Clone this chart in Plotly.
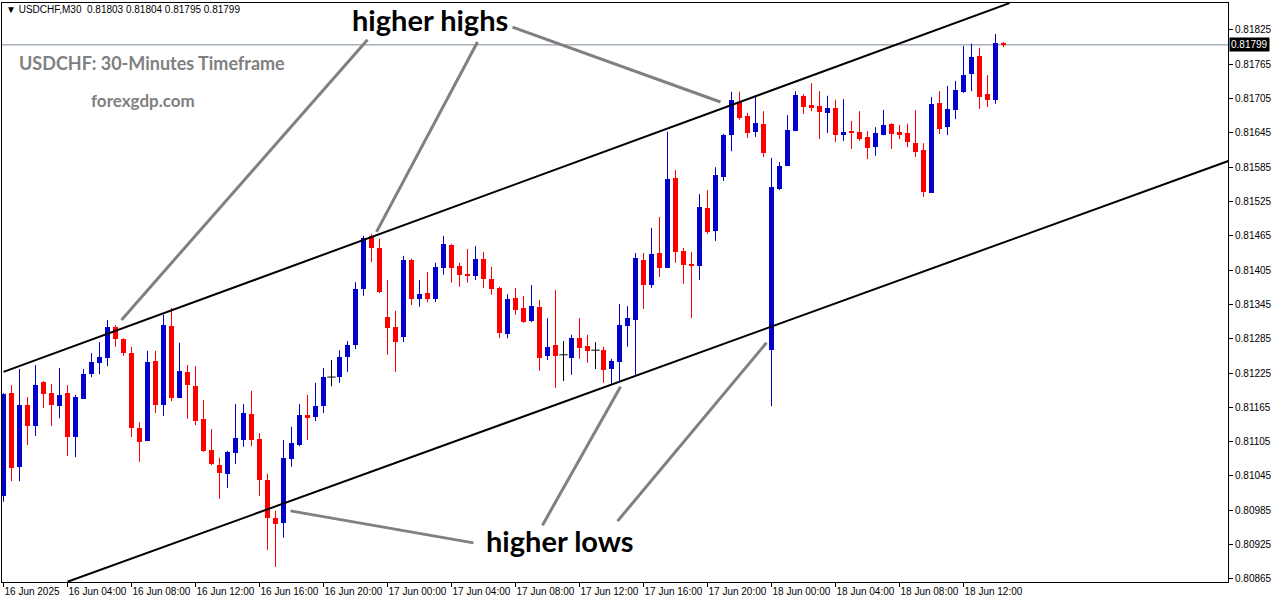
import plotly.graph_objects as go

# ---------------- data ----------------
opens = [0.81010, 0.81190, 0.81061, 0.81169, 0.81132, 0.81209, 0.81190, 0.81167, 0.81190, 0.81113,
         0.81180, 0.81223, 0.81243, 0.81251, 0.81306, 0.81285, 0.81260, 0.81129, 0.81106, 0.81246,
         0.81169, 0.81307, 0.81181, 0.81227, 0.81202, 0.81145, 0.81090, 0.81064, 0.81049, 0.81085,
         0.81108, 0.81153, 0.81110, 0.81038, 0.80972, 0.80963, 0.81075, 0.81099, 0.81152, 0.81148,
         0.81167, 0.81218, 0.81218, 0.81253, 0.81274, 0.81372, 0.81465, 0.81444, 0.81323, 0.81306,
         0.81288, 0.81423, 0.81355, 0.81365, 0.81355, 0.81409, 0.81449, 0.81412, 0.81398, 0.81395,
         0.81425, 0.81390, 0.81374, 0.81293, 0.81356, 0.81339, 0.81316, 0.81341, 0.81255, 0.81274,
         0.81257, 0.81251, 0.81286, 0.81272, 0.81265, 0.81265, 0.81232, 0.81244, 0.81307, 0.81318,
         0.81423, 0.81379, 0.81435, 0.81409, 0.81566, 0.81439, 0.81416, 0.81412, 0.81514, 0.81474,
         0.81568, 0.81641, 0.81699, 0.81675, 0.81647, 0.81661, 0.81265, 0.81547, 0.81587, 0.81648,
         0.81710, 0.81694, 0.81692, 0.81680, 0.81689, 0.81641, 0.81648, 0.81647, 0.81638, 0.81620,
         0.81641, 0.81661, 0.81647, 0.81645, 0.81627, 0.81615, 0.81540, 0.81697, 0.81655, 0.81685,
         0.81717, 0.81748, 0.81780, 0.81713, 0.81703, 0.81803]
highs = [0.81190, 0.81204, 0.81232, 0.81183, 0.81239, 0.81211, 0.81206, 0.81234, 0.81204, 0.81187,
         0.81232, 0.81260, 0.81279, 0.81318, 0.81309, 0.81286, 0.81271, 0.81139, 0.81264, 0.81264,
         0.81327, 0.81339, 0.81278, 0.81239, 0.81237, 0.81178, 0.81127, 0.81077, 0.81089, 0.81171,
         0.81171, 0.81194, 0.81120, 0.81049, 0.80984, 0.81108, 0.81131, 0.81171, 0.81187, 0.81208,
         0.81234, 0.81248, 0.81265, 0.81281, 0.81384, 0.81465, 0.81468, 0.81460, 0.81388, 0.81334,
         0.81430, 0.81425, 0.81388, 0.81402, 0.81418, 0.81465, 0.81451, 0.81418, 0.81442, 0.81447,
         0.81437, 0.81411, 0.81376, 0.81363, 0.81374, 0.81360, 0.81379, 0.81353, 0.81321, 0.81370,
         0.81281, 0.81292, 0.81321, 0.81292, 0.81279, 0.81271, 0.81250, 0.81346, 0.81342, 0.81435,
         0.81435, 0.81479, 0.81498, 0.81647, 0.81580, 0.81444, 0.81437, 0.81538, 0.81545, 0.81585,
         0.81643, 0.81717, 0.81717, 0.81680, 0.81710, 0.81683, 0.81601, 0.81594, 0.81676, 0.81718,
         0.81713, 0.81732, 0.81718, 0.81710, 0.81703, 0.81704, 0.81666, 0.81683, 0.81648, 0.81655,
         0.81685, 0.81662, 0.81659, 0.81661, 0.81685, 0.81627, 0.81708, 0.81718, 0.81727, 0.81736,
         0.81797, 0.81801, 0.81794, 0.81746, 0.81818, 0.81804]
lows = [0.81000, 0.81036, 0.81036, 0.81099, 0.81115, 0.81164, 0.81132, 0.81146, 0.81080, 0.81078,
        0.81180, 0.81218, 0.81223, 0.81237, 0.81271, 0.81255, 0.81113, 0.81070, 0.81106, 0.81155,
        0.81150, 0.81176, 0.81181, 0.81145, 0.81134, 0.81087, 0.81064, 0.81005, 0.81024, 0.81066,
        0.81096, 0.81097, 0.81010, 0.80916, 0.80886, 0.80937, 0.81061, 0.81097, 0.81108, 0.81141,
        0.81155, 0.81202, 0.81208, 0.81227, 0.81267, 0.81360, 0.81419, 0.81365, 0.81257, 0.81227,
        0.81279, 0.81344, 0.81341, 0.81349, 0.81349, 0.81397, 0.81383, 0.81376, 0.81383, 0.81388,
        0.81374, 0.81362, 0.81286, 0.81286, 0.81327, 0.81313, 0.81314, 0.81229, 0.81248, 0.81199,
        0.81211, 0.81222, 0.81250, 0.81243, 0.81232, 0.81208, 0.81206, 0.81209, 0.81271, 0.81222,
        0.81337, 0.81374, 0.81393, 0.81409, 0.81418, 0.81381, 0.81321, 0.81388, 0.81468, 0.81456,
        0.81561, 0.81613, 0.81668, 0.81636, 0.81638, 0.81603, 0.81167, 0.81545, 0.81587, 0.81648,
        0.81678, 0.81683, 0.81634, 0.81645, 0.81629, 0.81631, 0.81617, 0.81631, 0.81599, 0.81605,
        0.81641, 0.81617, 0.81634, 0.81620, 0.81603, 0.81533, 0.81540, 0.81643, 0.81641, 0.81669,
        0.81715, 0.81718, 0.81687, 0.81690, 0.81696, 0.81795]
closes = [0.81188, 0.81059, 0.81169, 0.81132, 0.81204, 0.81188, 0.81169, 0.81187, 0.81113, 0.81183,
          0.81223, 0.81244, 0.81253, 0.81306, 0.81285, 0.81260, 0.81129, 0.81104, 0.81244, 0.81169,
          0.81309, 0.81181, 0.81229, 0.81204, 0.81141, 0.81089, 0.81066, 0.81050, 0.81087, 0.81111,
          0.81155, 0.81108, 0.81038, 0.80972, 0.80961, 0.81077, 0.81103, 0.81152, 0.81146, 0.81167,
          0.81218, 0.81218, 0.81253, 0.81274, 0.81372, 0.81461, 0.81444, 0.81367, 0.81304, 0.81279,
          0.81423, 0.81355, 0.81363, 0.81355, 0.81411, 0.81451, 0.81409, 0.81397, 0.81395, 0.81425,
          0.81390, 0.81372, 0.81295, 0.81355, 0.81335, 0.81314, 0.81342, 0.81251, 0.81271, 0.81255,
          0.81257, 0.81286, 0.81269, 0.81264, 0.81265, 0.81230, 0.81246, 0.81309, 0.81321, 0.81426,
          0.81379, 0.81433, 0.81409, 0.81564, 0.81437, 0.81414, 0.81412, 0.81515, 0.81472, 0.81571,
          0.81641, 0.81703, 0.81671, 0.81645, 0.81662, 0.81610, 0.81550, 0.81587, 0.81650, 0.81711,
          0.81690, 0.81689, 0.81682, 0.81689, 0.81641, 0.81647, 0.81645, 0.81634, 0.81619, 0.81645,
          0.81659, 0.81643, 0.81641, 0.81629, 0.81612, 0.81542, 0.81696, 0.81652, 0.81687, 0.81720,
          0.81746, 0.81778, 0.81708, 0.81703, 0.81803, 0.81799]

x_tick_labels = ["16 Jun 2025", "16 Jun 04:00", "16 Jun 08:00", "16 Jun 12:00", "16 Jun 16:00",
                 "16 Jun 20:00", "17 Jun 00:00", "17 Jun 04:00", "17 Jun 08:00", "17 Jun 12:00",
                 "17 Jun 16:00", "17 Jun 20:00", "18 Jun 00:00", "18 Jun 04:00", "18 Jun 08:00",
                 "18 Jun 12:00"]
y_tick_values = [0.80865, 0.80925, 0.80985, 0.81045, 0.81105, 0.81165, 0.81225, 0.81285, 0.81345,
                 0.81405, 0.81465, 0.81525, 0.81585, 0.81645, 0.81705, 0.81765, 0.81825]
current_price = 0.81799

# trend channel anchors (bar index, price)
upper_channel = [(0.0, 0.81227), (125.75, 0.81872)]
lower_channel = [(8.0, 0.80860), (153.125, 0.81596)]
# pointer lines (bar index, price)
pointer_lines = [
    [(45.5, 0.81808), (14.75, 0.81318)],
    [(59.25, 0.81804), (46.625, 0.81472)],
    [(63.625, 0.81830), (89.625, 0.81699)],
    [(35.875, 0.80984), (58.75, 0.80928)],
    [(67.375, 0.80959), (77.125, 0.81201)],
    [(76.75, 0.80966), (95.375, 0.81278)],
]

# ---------------- figure ----------------
BLUE = "#0000cd"
RED = "#ff0000"
n = len(opens)
idx = list(range(n))

fig = go.Figure()

groups = {"up": [], "down": [], "doji": []}
for i in idx:
    if abs(closes[i] - opens[i]) < 1e-9:
        groups["doji"].append(i)
    elif closes[i] > opens[i]:
        groups["up"].append(i)
    else:
        groups["down"].append(i)

for key, color in (("up", BLUE), ("down", RED), ("doji", "#000000")):
    ids = groups[key]
    wx, wy = [], []
    for i in ids:
        wx += [i, i, None]
        wy += [lows[i], highs[i], None]
    fig.add_trace(go.Scatter(x=wx, y=wy, mode="lines", line=dict(color=color, width=1),
                             hoverinfo="skip", showlegend=False))
    if key != "doji":
        fig.add_trace(go.Bar(x=ids,
                             base=[min(opens[i], closes[i]) for i in ids],
                             y=[abs(closes[i] - opens[i]) for i in ids],
                             width=0.625, marker=dict(color=color, line=dict(width=0)),
                             hoverinfo="skip", showlegend=False))
    else:
        fig.add_trace(go.Scatter(x=ids, y=[closes[i] for i in ids], mode="markers",
                                 marker=dict(symbol="line-ew", size=6,
                                             line=dict(color="#000000", width=1)),
                                 hoverinfo="skip", showlegend=False))

shapes = []
# current price line
shapes.append(dict(type="line", xref="paper", x0=0, x1=1, yref="y", y0=current_price, y1=current_price,
                   line=dict(color="#778899", width=1), layer="below"))
for (a, b) in (upper_channel, lower_channel):
    shapes.append(dict(type="line", xref="x", yref="y", x0=a[0], y0=a[1], x1=b[0], y1=b[1],
                       line=dict(color="#000000", width=2)))
for (a, b) in pointer_lines:
    shapes.append(dict(type="line", xref="x", yref="y", x0=a[0], y0=a[1], x1=b[0], y1=b[1],
                       line=dict(color="#808080", width=3)))

annotations = [
    dict(text="\u25bc USDCHF,M30  0.81803 0.81804 0.81795 0.81799", xref="paper", yref="paper",
         x=0.002, y=0.988, xanchor="left", yanchor="middle", showarrow=False,
         font=dict(family="Liberation Sans, Arial", size=10, color="#000000")),
    dict(text="<b>USDCHF: 30-Minutes Timeframe</b>", xref="paper", yref="paper",
         x=0.012, y=0.896, xanchor="left", yanchor="middle", showarrow=False,
         font=dict(family="Lato", size=18, color="#808080")),
    dict(text="<b>forexgdp.com</b>", xref="paper", yref="paper",
         x=0.071, y=0.831, xanchor="left", yanchor="middle", showarrow=False,
         font=dict(family="Lato", size=17, color="#808080")),
    dict(text="<b>higher highs</b>", xref="x", yref="y", x=53.3, y=0.81843,
         xanchor="center", yanchor="middle", showarrow=False,
         font=dict(family="Lato", size=29, color="#000000")),
    dict(text="<b>higher lows</b>", xref="x", yref="y", x=69.6, y=0.80933,
         xanchor="center", yanchor="middle", showarrow=False,
         font=dict(family="Lato", size=29, color="#000000")),
    dict(text="0.81799", xref="paper", yref="y", x=1, xshift=1, y=current_price,
         xanchor="left", yanchor="middle", showarrow=False, bgcolor="#000000", borderpad=1,
         font=dict(family="Liberation Sans, Arial", size=10, color="#ffffff")),
]

fig.update_layout(
    width=1276, height=604,
    margin=dict(l=2, r=48, t=3, b=22, autoexpand=False),
    paper_bgcolor="#ffffff", plot_bgcolor="#ffffff",
    barmode="overlay", bargap=0,
    showlegend=False,
    shapes=shapes, annotations=annotations,
    font=dict(family="Liberation Sans, Arial", size=10, color="#000000"),
)
fig.update_xaxes(range=[-0.1875, 153.0625], showgrid=False, zeroline=False,
                 showline=True, mirror=True, linecolor="#000000", linewidth=1,
                 ticks="outside", ticklen=4, tickcolor="#000000", tickangle=0,
                 tickvals=[8 * k for k in range(len(x_tick_labels))], ticktext=x_tick_labels,
                 ticklabelposition="outside right", automargin=False,
                 tickfont=dict(family="Liberation Sans, Arial", size=10, color="#000000"))
fig.update_yaxes(range=[0.808596, 0.818722], side="right", showgrid=False, zeroline=False,
                 showline=True, mirror=True, linecolor="#000000", linewidth=1,
                 ticks="outside", ticklen=4, tickcolor="#000000", automargin=False,
                 tickvals=y_tick_values, ticktext=["%.5f" % v for v in y_tick_values],
                 tickfont=dict(family="Liberation Sans, Arial", size=10, color="#000000"))

fig.write_html("out.html", config={"displayModeBar": False},
               post_script="document.body.style.margin='0';document.body.style.overflow='hidden';")
